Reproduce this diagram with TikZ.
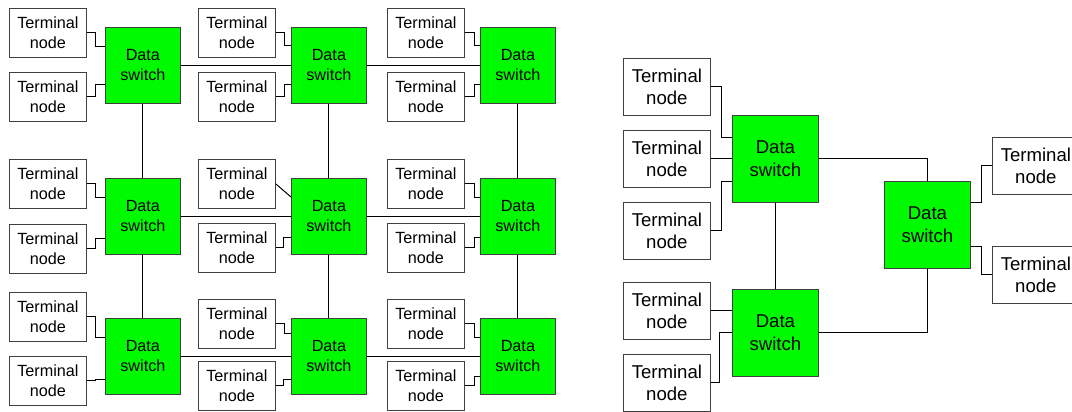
\documentclass[tikz,border=0pt]{standalone}
\usepackage{fontspec}
\setmainfont{Liberation Sans}
\definecolor{swgreen}{RGB}{0,250,0}
\tikzset{
  box/.style={draw=black!75, line width=0.8pt, inner sep=0pt, align=center, anchor=north west},
  term/.style={box, fill=white, minimum width=77pt, minimum height=49pt,
    font=\fontsize{16.2}{19.8}\selectfont},
  sw/.style={box, fill=swgreen, minimum width=75pt, minimum height=76pt,
    font=\fontsize{16.2}{19.8}\selectfont},
  termR/.style={box, fill=white, minimum width=87pt, minimum height=57pt,
    font=\fontsize{18.6}{22.6}\selectfont},
  swR/.style={box, fill=swgreen, minimum width=86pt, minimum height=87pt,
    font=\fontsize{18.6}{22.6}\selectfont},
  link/.style={line width=1pt, black}
}
\begin{document}
\begin{tikzpicture}[x=1pt,y=-1pt]
\useasboundingbox (0,0) rectangle (1072,412);
\clip (0,0) rectangle (1072,412);

% ---------- mesh of data switches ----------
\node[sw] (s11) at (105,27)  {Data\\switch};
\node[sw] (s12) at (291,27)  {Data\\switch};
\node[sw] (s13) at (480,27)  {Data\\switch};
\node[sw] (s21) at (105,178) {Data\\switch};
\node[sw] (s22) at (291,178) {Data\\switch};
\node[sw] (s23) at (480,178) {Data\\switch};
\node[sw] (s31) at (105,318) {Data\\switch};
\node[sw] (s32) at (291,318) {Data\\switch};
\node[sw] (s33) at (480,318) {Data\\switch};

% terminals (a = upper, b = lower)
\node[term] (t11a) at (9,8)    {Terminal\\node};
\node[term] (t11b) at (9,72)   {Terminal\\node};
\node[term] (t12a) at (198,8)  {Terminal\\node};
\node[term] (t12b) at (198,72) {Terminal\\node};
\node[term] (t13a) at (387,8)  {Terminal\\node};
\node[term] (t13b) at (387,72) {Terminal\\node};
\node[term] (t21a) at (9,159)   {Terminal\\node};
\node[term] (t21b) at (9,224)   {Terminal\\node};
\node[term] (t22a) at (198,159) {Terminal\\node};
\node[term] (t22b) at (198,223) {Terminal\\node};
\node[term] (t23a) at (387,159) {Terminal\\node};
\node[term] (t23b) at (387,223) {Terminal\\node};
\node[term] (t31a) at (9,292)   {Terminal\\node};
\node[term] (t31b) at (9,356)   {Terminal\\node};
\node[term] (t32a) at (198,299) {Terminal\\node};
\node[term] (t32b) at (198,361) {Terminal\\node};
\node[term] (t33a) at (387,299) {Terminal\\node};
\node[term] (t33b) at (387,361) {Terminal\\node};

% switch-to-switch links
\draw[link] (s11.east) -- (s12.west);
\draw[link] (s12.east) -- (s13.west);
\draw[link] (s21.east) -- (s22.west);
\draw[link] (s22.east) -- (s23.west);
\draw[link] (s31.east) -- (s32.west);
\draw[link] (s32.east) -- (s33.west);
\draw[link] (s11.south) -- (s21.north);
\draw[link] (s21.south) -- (s31.north);
\draw[link] (s12.south) -- (s22.north);
\draw[link] (s22.south) -- (s32.north);
\draw[link] (s13.south) -- (s23.north);
\draw[link] (s23.south) -- (s33.north);

% terminal-to-switch links
\draw[link] (t11a.east) -- ++(9,0) |- ([yshift=-20pt]s11.north west);
\draw[link] (t11b.east) -- ++(9,0) |- ([yshift=19pt]s11.south west);
\draw[link] (t12a.east) -- ++(9,0) |- ([yshift=-19pt]s12.north west);
\draw[link] (t12b.east) -- ++(9,0) |- ([yshift=19pt]s12.south west);
\draw[link] (t13a.east) -- ++(10,0) |- ([yshift=-19pt]s13.north west);
\draw[link] (t13b.east) -- ++(10,0) |- ([yshift=19pt]s13.south west);

\draw[link] (t21a.east) -- ++(9,0) |- ([yshift=-19pt]s21.north west);
\draw[link] (t21b.east) -- ++(9,0) |- ([yshift=16pt]s21.south west);
\draw[link] (t22a.east) -- ([yshift=-19pt]s22.north west);
\draw[link] (t22b.east) -- ++(8,0) |- ([yshift=17pt]s22.south west);
\draw[link] (t23a.east) -- ++(10,0) |- ([yshift=-19pt]s23.north west);
\draw[link] (t23b.east) -- ++(10,0) |- ([yshift=17pt]s23.south west);

\draw[link] (t31a.east) -- ++(9,0) |- ([yshift=-19pt]s31.north west);
\draw[link] (t31b.east) -- ++(9,0) |- ([yshift=15pt]s31.south west);
\draw[link] (t32a.east) -- ++(9,0) |- ([yshift=-15pt]s32.north west);
\draw[link] (t32b.east) -- ++(8,0) |- ([yshift=15pt]s32.south west);
\draw[link] (t33a.east) -- ++(10,0) |- ([yshift=-19pt]s33.north west);
\draw[link] (t33b.east) -- ++(10,0) |- ([yshift=18pt]s33.south west);

% ---------- tree of data switches ----------
\node[swR] (A) at (732,115) {Data\\switch};
\node[swR] (B) at (732,289) {Data\\switch};
\node[swR] (C) at (884,181) {Data\\switch};

\node[termR] (ra1) at (623,58)  {Terminal\\node};
\node[termR] (ra2) at (623,130) {Terminal\\node};
\node[termR] (ra3) at (623,202) {Terminal\\node};
\node[termR] (rb1) at (623,282) {Terminal\\node};
\node[termR] (rb2) at (623,354) {Terminal\\node};
\node[termR] (rc1) at (992,137) {Terminal\\node};
\node[termR] (rc2) at (992,246) {Terminal\\node};

\draw[link] (ra1.east) -- ++(11,0) |- ([yshift=-22pt]A.north west);
\draw[link] (ra2.east) -- (A.west);
\draw[link] (ra3.east) -- ++(11,0) |- ([yshift=21pt]A.south west);
\draw[link] (rb1.east) -- (rb1.east -| B.west);
\draw[link] (rb2.east) -- ++(9,0) |- (B.west);
\draw[link] (A.south) -- (B.north);
\draw[link] (A.east) -| (C.north);
\draw[link] (B.east) -| (C.south);
\draw[link] ([yshift=-21pt]C.north east) -- ++(11,0) |- (rc1.west);
\draw[link] ([yshift=22pt]C.south east) -- ++(11,0) |- (rc2.west);
\end{tikzpicture}
\end{document}
